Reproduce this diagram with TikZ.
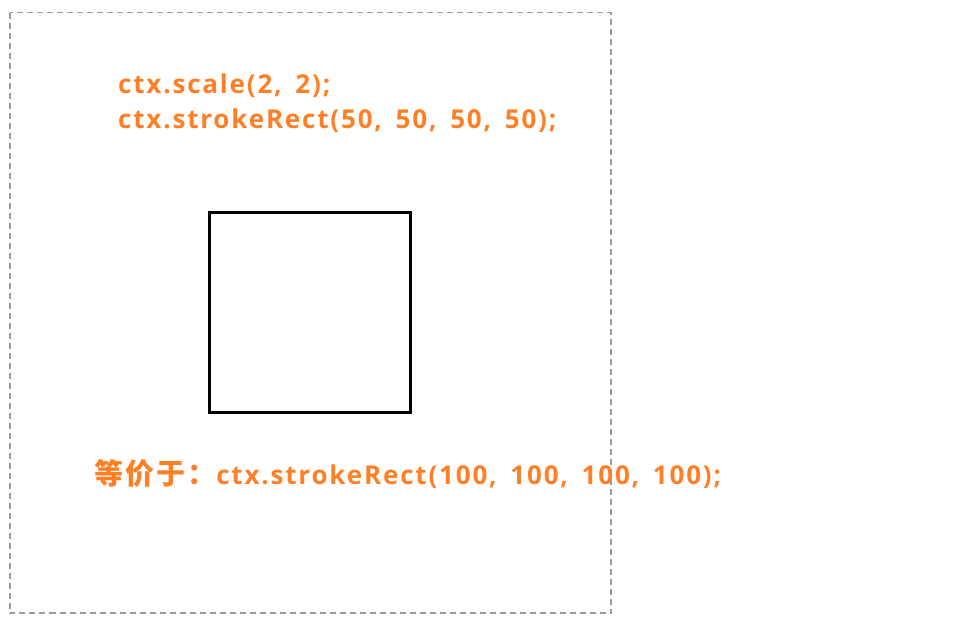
\documentclass[tikz,border=0pt]{standalone}
\usepackage{fontspec}
\setsansfont{Open Sans}[LetterSpace=7,WordSpace=1.6]
\newfontfamily\cjk{Noto Sans CJK SC}[LetterSpace=7]
\definecolor{codeorange}{RGB}{255,127,39}
\definecolor{framegray}{RGB}{155,155,155}
\tikzset{
    codetext/.style={text=codeorange, font=\sffamily\bfseries\fontsize{26}{30}\selectfont, anchor=base west, inner sep=0pt},
    canvasframe/.style={draw=framegray, line width=1.5pt, dash pattern=on 6pt off 4pt}
}
\begin{document}
\begin{tikzpicture}[x=1pt,y=-1pt]
    \useasboundingbox (0,0) rectangle (967,633);
    
    % canvas border
    \draw[canvasframe] (10,12.5) rectangle (611,613);
    
    % code lines
    \node[codetext] (scaleline) at (118,93) {ctx.scale(2, 2);};
    \node[codetext] (strokeline) at (118,128) {ctx.strokeRect(50, 50, 50, 50);};
    
    % scaled square
    \draw[line width=3pt] (209,212.5) rectangle (410,412);
    
    % equivalent call
    \node[codetext] (sameline) at (94,484) {{\cjk\bfseries\fontsize{29}{30}\selectfont 等价于：}ctx.strokeRect(100, 100, 100, 100);};
\end{tikzpicture}
\end{document}
